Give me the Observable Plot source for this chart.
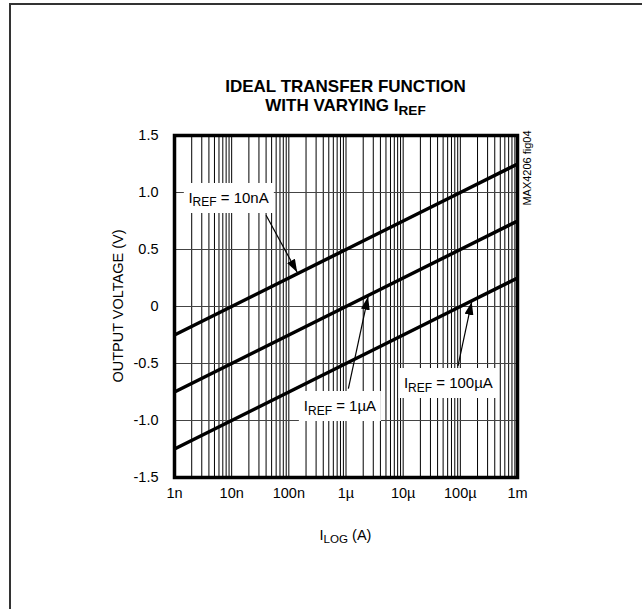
<!DOCTYPE html>
<html><head><meta charset="utf-8">
<script src="https://cdn.jsdelivr.net/npm/d3@7"></script>
<script src="https://cdn.jsdelivr.net/npm/@observablehq/plot@0.6"></script>
<style>
body{margin:0;background:#fff;}
#wrap{position:relative;width:642px;height:609px;overflow:hidden;background:#fff;
  font-family:'Liberation Sans',Arial,sans-serif;color:#000;}
#border{position:absolute;left:9px;top:3px;width:700px;height:700px;border-top:2px solid #333;border-left:2px solid #333;box-sizing:border-box;}
#chart{position:absolute;left:0;top:0;}
.t{position:absolute;white-space:nowrap;line-height:1;}
.title{font-weight:bold;font-size:17px;transform:translate(-50%,-50%);}
.sub{font-size:0.8em;position:relative;top:0.3em;}
.box{background:#fff;font-size:15px;padding:7px 5px 8px 5px;transform:translate(-50%,-50%);}
.axl{font-size:14.5px;}
</style></head>
<body><div id="wrap"><div id="border"></div><div id="chart"></div></div>
<script>
// ---- data ----
const xTicks = [1e-9, 1e-8, 1e-7, 1e-6, 1e-5, 1e-4, 1e-3];
const xTickLabels = ["1n", "10n", "100n", "1µ", "10µ", "100µ", "1m"];
const yTicks = [-1.5, -1, -0.5, 0, 0.5, 1, 1.5];
const yTickLabels = ["-1.5", "-1.0", "-0.5", "0", "0.5", "1.0", "1.5"];
const iLog = [1e-9, 1e-8, 1e-7, 1e-6, 1e-5, 1e-4, 1e-3];
const vRef10n = [-0.25, 0, 0.25, 0.5, 0.75, 1.0, 1.25];
const vRef1u = [-0.75, -0.5, -0.25, 0, 0.25, 0.5, 0.75];
const vRef100u = [-1.25, -1.0, -0.75, -0.5, -0.25, 0, 0.25];
const seriesNames = ["10nA", "1µA", "100µA"];
const gridMultipliers = [1, 2, 3, 4, 5, 6, 7, 8, 9];
const gridYValues = [-1, -0.5, 0, 0.5, 1];
const labelValues = ["10nA", "1µA", "100µA"];
const labelX = [9e-9, 8e-7, 6.3e-5];
const labelY = [0.95, -0.88, -0.675];
const arrowX1 = [4e-8, 1.1e-6, 9.1e-5];
const arrowY1 = [0.8, -0.72, -0.52];
const arrowX2 = [1.4e-7, 2.43e-6, 1.58e-4];
const arrowY2 = [0.30, 0.085, 0.04];

// ---- build tables ----
const series = [vRef10n, vRef1u, vRef100u];
const lineData = [];
series.forEach((vals, s) => vals.forEach((v, i) => lineData.push({x: iLog[i], y: v, s: seriesNames[s]})));
const gridX = [];
xTicks.slice(0, -1).forEach(d => gridMultipliers.forEach(m => gridX.push(d * m)));
gridX.push(xTicks[xTicks.length - 1]);
const arrows = arrowX1.map((x1, i) => ({x1, y1: arrowY1[i], x2: arrowX2[i], y2: arrowY2[i]}));
const xLab = new Map(xTicks.map((d, i) => [d, xTickLabels[i]]));
const yLab = new Map(yTicks.map((d, i) => [d, yTickLabels[i]]));

const plot = Plot.plot({
  width: 642, height: 609,
  marginLeft: 174, marginRight: 125, marginTop: 135, marginBottom: 132,
  x: {type: "log", domain: [1e-9, 1e-3]},
  y: {domain: [-1.5, 1.5]},
  style: {fontFamily: "'Liberation Sans',Arial,sans-serif", fontSize: "14.5px", color: "#000", background: "transparent", overflow: "visible"},
  marks: [
    Plot.ruleX(gridX, {stroke: "#000", strokeWidth: 1}),
    Plot.ruleY(gridYValues, {stroke: "#444", strokeWidth: 1.2}),
    Plot.line(lineData, {x: "x", y: "y", z: "s", stroke: "#000", strokeWidth: 3.5, strokeLinecap: "butt"}),
    Plot.frame({stroke: "#000", strokeWidth: 3.5}),
    Plot.link(arrows, {x1: "x1", y1: "y1", x2: "x2", y2: "y2", stroke: "#000", strokeWidth: 1.2}),
    Plot.axisX({ticks: xTicks, tickFormat: d => xLab.get(d), tickSize: 0, tickPadding: 10, label: null}),
    Plot.axisY({ticks: yTicks, tickFormat: d => yLab.get(d), tickSize: 0, tickPadding: 16, label: null})
  ]
});
document.getElementById("chart").appendChild(plot);

// filled arrowheads
const svg = d3.select(plot);
const defs = svg.insert("defs", ":first-child");
defs.append("marker").attr("id", "ah").attr("viewBox", "0 0 13 9")
  .attr("markerUnits", "userSpaceOnUse").attr("markerWidth", 13).attr("markerHeight", 9)
  .attr("refX", 13).attr("refY", 4.5).attr("orient", "auto")
  .append("path").attr("d", "M0,0L13,4.5L0,9Z").attr("fill", "#000");
svg.selectAll('g[aria-label="link"] path').attr("marker-end", "url(#ah)");

// overlays
const sx = plot.scale("x"), sy = plot.scale("y");
const wrap = document.getElementById("wrap");
function add(html, cls, left, top, extra) {
  const d = document.createElement("div");
  d.className = "t " + cls;
  d.innerHTML = html;
  d.style.left = left + "px"; d.style.top = top + "px";
  if (extra) Object.assign(d.style, extra);
  wrap.appendChild(d);
  return d;
}
const cx = (sx.apply(1e-9) + sx.apply(1e-3)) / 2;
add("IDEAL TRANSFER FUNCTION", "title", cx, 86);
add('WITH VARYING I<span class="sub">REF</span>', "title", cx, 105);
labelValues.forEach((v, i) => add('I<span class="sub">REF</span> = ' + v, "box", sx.apply(labelX[i]), sy.apply(labelY[i])));
add("OUTPUT VOLTAGE (V)", "axl", 118, sy.apply(0), {transform: "translate(-50%,-50%) rotate(-90deg)"});
add('I<span class="sub">LOG</span> (A)', "axl", cx, 535, {transform: "translate(-50%,-50%)"});
add("MAX4206 fig04", "", 527, 168, {fontSize: "11px", transform: "translate(-50%,-50%) rotate(-90deg)"});
</script></body></html>
